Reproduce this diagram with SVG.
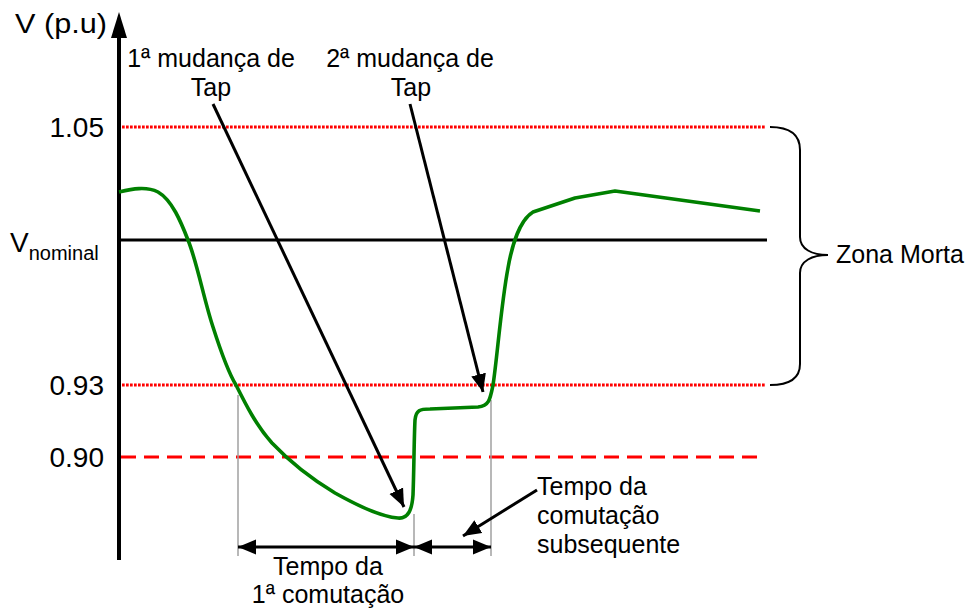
<svg xmlns="http://www.w3.org/2000/svg" width="968" height="611" viewBox="0 0 968 611">
<style>
text{font-family:"Liberation Sans",Arial,sans-serif;fill:#000}
.num{font-size:28px}
.lbl{font-size:25px}
.dot{stroke:#ff0000;stroke-width:3.2;stroke-dasharray:2.7 1.3;fill:none}
.dash{stroke:#ff0000;stroke-width:3.2;stroke-dasharray:15 8;fill:none}
.blk{stroke:#000;stroke-width:3;fill:none}
.gray{stroke:#a0a0a0;stroke-width:1.5;fill:none}
</style>
<defs>
<marker id="ah" markerUnits="userSpaceOnUse" markerWidth="20" markerHeight="16" refX="18" refY="8" orient="auto-start-reverse">
<path d="M0,0.5 L18,8 L0,15.5 z" fill="#000"/>
</marker>
</defs>
<rect width="968" height="611" fill="#fff"/>
<g id="axis">
<line x1="119" y1="560" x2="119" y2="36" stroke="#000" stroke-width="4"/>
<path d="M119,12 L127,38 L111,38 z" fill="#000"/>
<text class="num" x="15" y="33" textLength="92" lengthAdjust="spacingAndGlyphs">V (p.u)</text>
</g>
<g id="levels">
<line class="dot" x1="122" y1="127" x2="765" y2="127"/>
<line class="blk" x1="119" y1="240" x2="767" y2="240"/>
<line class="dot" x1="122" y1="385" x2="765" y2="385"/>
<line class="dash" x1="121" y1="457" x2="765" y2="457"/>
<text class="num" x="104" y="137" text-anchor="end">1.05</text>
<text class="num" x="10" y="252">V<tspan font-size="20" y="260">nominal</tspan></text>
<text class="num" x="104" y="395" text-anchor="end">0.93</text>
<text class="num" x="104" y="467" text-anchor="end">0.90</text>
</g>
<g id="guides">
<line class="gray" x1="238" y1="395" x2="238" y2="556"/>
<line class="gray" x1="414" y1="514" x2="414" y2="556"/>
<line class="gray" x1="491" y1="400" x2="491" y2="556"/>
</g>
<g id="curve">
<path d="M119,192 C132,189 146,186 158,192 C172,200 181,222 188,240 C197,262 204,300 213,327 C221,352 228,372 236,385 C246,405 256,425 272,443 C290,462 310,478 335,493 C360,507 382,517 398,518 C408,519 412,510 413,495 C414,470 414,440 415,420 C416,410 420,409 430,409 L478,407 C489,406 490,400 493,385 C497,360 501,305 508,268 C512,245 520,220 533,212 L575,198 L615,191 L760,211" fill="none" stroke="#008000" stroke-width="3.6" stroke-linejoin="round"/>
</g>
<g id="zona-morta">
<path d="M770,127 C790,127 800,135 800,150 L800,237 C800,249 812,255 828,255 C812,255 800,261 800,273 L800,364 C800,378 790,385 770,385" fill="none" stroke="#000" stroke-width="2"/>
<text class="lbl" x="836" y="263">Zona Morta</text>
</g>
<g id="tap1">
<text class="lbl" x="211" y="67" text-anchor="middle">1ª mudança de</text>
<text class="lbl" x="211" y="96" text-anchor="middle">Tap</text>
</g>
<g id="tap2">
<text class="lbl" x="410" y="67" text-anchor="middle">2ª mudança de</text>
<text class="lbl" x="411" y="96" text-anchor="middle">Tap</text>
</g>
<g id="tempo1">
<text class="lbl" x="328" y="575" text-anchor="middle">Tempo da</text>
<text class="lbl" x="328" y="603" text-anchor="middle">1ª comutação</text>
</g>
<g id="tempo2">
<text class="lbl" x="537" y="495">Tempo da</text>
<text class="lbl" x="537" y="524">comutação</text>
<text class="lbl" x="537" y="553">subsequente</text>
</g>
<g id="connectors">
<line class="blk" x1="213" y1="104" x2="404" y2="507" marker-end="url(#ah)"/>
<line class="blk" x1="410" y1="104" x2="483" y2="392" marker-end="url(#ah)"/>
<line class="blk" x1="537" y1="490" x2="463" y2="536" marker-end="url(#ah)"/>
<line class="blk" x1="238" y1="547" x2="414" y2="547" marker-start="url(#ah)" marker-end="url(#ah)"/>
<line class="blk" x1="414" y1="547" x2="491" y2="547" marker-start="url(#ah)" marker-end="url(#ah)"/>
</g>
</svg>
